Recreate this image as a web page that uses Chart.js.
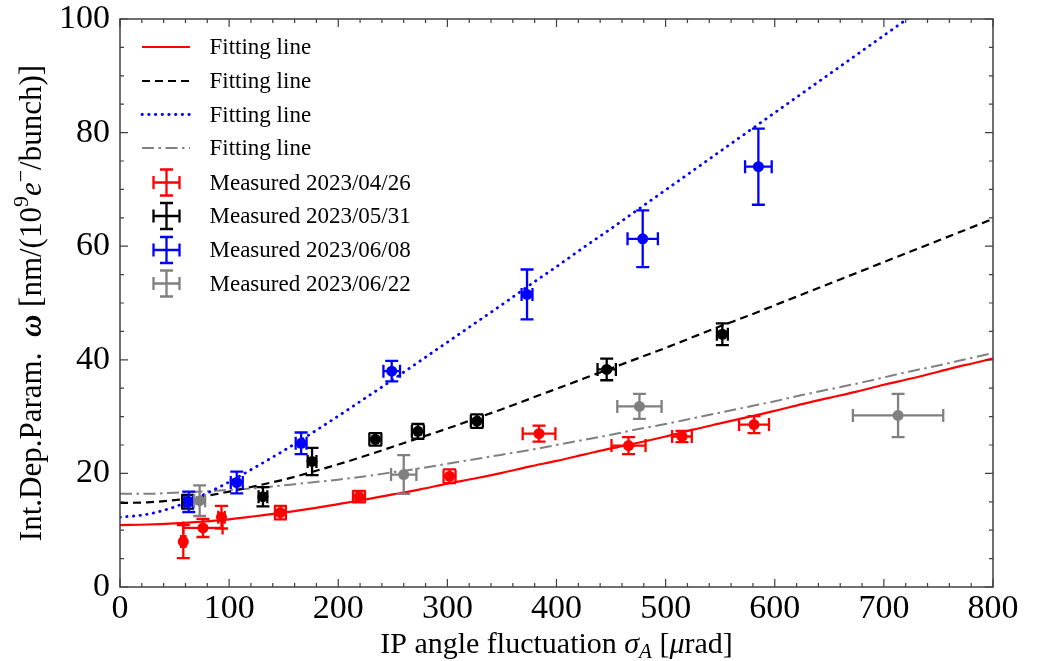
<!DOCTYPE html>
<html>
<head>
<meta charset="utf-8">
<script src="https://cdn.jsdelivr.net/npm/chart.js@4.4.0/dist/chart.umd.min.js"></script>
<style>
  body { margin: 0; background: #fff; }
  #wrap { width: 1039px; height: 661px; }
</style>
</head>
<body>
<div id="wrap"><canvas id="chart" width="1039" height="661"></canvas></div>
<script>
// fitting curves, every 25 urad
const fitX = [0, 25, 50, 75, 100, 125, 150, 175, 200, 225, 250, 275, 300, 325, 350, 375, 400,
              425, 450, 475, 500, 525, 550, 575, 600, 625, 650, 675, 700, 725, 750, 775, 800];
const fitRed = [10.9, 11.0, 11.2, 11.5, 11.9, 12.5, 13.1, 13.8, 14.6, 15.4, 16.3, 17.2, 18.2, 19.1, 20.1, 21.2, 22.2,
                23.3, 24.4, 25.4, 26.5, 27.7, 28.8, 29.9, 31.0, 32.2, 33.3, 34.4, 35.6, 36.7, 37.9, 39.1, 40.2];
const fitBlack = [14.8, 14.9, 15.3, 15.9, 16.8, 17.8, 18.9, 20.2, 21.6, 23.1, 24.7, 26.3, 27.9, 29.6, 31.3, 33.1, 34.9,
                  36.7, 38.5, 40.3, 42.1, 44.0, 45.9, 47.7, 49.6, 51.5, 53.4, 55.3, 57.2, 59.1, 61.0, 62.9, 64.8];
const fitBlue = [12.3, 12.8, 14.1, 16.1, 18.5, 21.2, 24.0, 27.0, 30.1, 33.3, 36.5, 39.8, 43.1, 46.4, 49.7, 53.1, 56.4,
                 59.8, 63.1, 66.5, 69.9, 73.3, 76.7, 80.1, 83.5, 86.9, 90.3, 93.7, 97.1, 100.5, 103.9, 107.3, 110.7];
const fitGray = [16.4, 16.4, 16.6, 16.8, 17.1, 17.4, 17.9, 18.4, 18.9, 19.5, 20.2, 20.9, 21.7, 22.5, 23.3, 24.1, 25.0,
                 25.9, 26.8, 27.8, 28.7, 29.7, 30.7, 31.7, 32.7, 33.8, 34.8, 35.8, 36.9, 38.0, 39.0, 40.1, 41.2];

// measured 2023/04/26
const redX = [58, 76, 93, 147, 219, 302, 384, 466, 515, 581];
const redY = [8.0, 10.4, 12.3, 13.1, 15.9, 19.5, 27.0, 24.9, 26.5, 28.6];
const redXErr = [2, 18, 3, 5, 5.5, 5.5, 15, 15.6, 9, 13.7];
const redYErr = [2.9, 1.6, 2.0, 1.2, 1.0, 1.2, 1.4, 1.5, 1.0, 1.5];
// measured 2023/05/31
const blackX = [62, 131, 176, 234, 273, 327, 446, 552];
const blackY = [15.0, 15.9, 22.1, 26.0, 27.4, 29.2, 38.3, 44.5];
const blackXErr = [5, 4, 4, 5.5, 5.5, 5.5, 8.4, 5];
const blackYErr = [1.2, 1.7, 2.4, 1.1, 1.3, 1.2, 1.9, 1.9];
// measured 2023/06/08
const blueX = [63, 107, 166, 249, 373, 479, 585];
const blueY = [15.0, 18.4, 25.3, 38.0, 51.5, 61.3, 74.0];
const blueXErr = [4, 5.5, 5, 7.6, 5, 13.9, 12.2];
const blueYErr = [1.8, 1.9, 1.9, 1.8, 4.4, 5.0, 6.7];
// measured 2023/06/22
const grayX = [73, 260, 476, 713];
const grayY = [15.2, 19.8, 31.8, 30.2];
const grayXErr = [5, 11.6, 20.3, 41.4];
const grayYErr = [2.7, 3.4, 2.2, 3.8];

const xTicks = [0, 100, 200, 300, 400, 500, 600, 700, 800];
const yTicks = [0, 20, 40, 60, 80, 100];

const SERIF = '"Liberation Serif", "DejaVu Serif", serif';
const RED = '#ff0000', BLACK = '#000000', BLUE = '#0000ff', GRAY = '#808080';

function pts(xs, ys) {
    return xs.map((x, i) => ({ x: x, y: ys[i] }));
}

function fitSet(label, ys, color, dash, width, cap) {
    return {
        type: 'line', label: label, data: pts(fitX, ys),
        borderColor: color, borderWidth: width, borderDash: dash,
        borderCapStyle: cap || 'butt',
        pointRadius: 0, showLine: true, cubicInterpolationMode: 'monotone',
        fill: false, order: 10
    };
}

function measSet(label, xs, ys, xe, ye, color, order) {
    return {
        label: label, data: pts(xs, ys), xErr: xe, yErr: ye,
        backgroundColor: color, borderColor: color, borderWidth: 0,
        pointRadius: 5.5, pointHoverRadius: 5.5, order: order
    };
}

const datasets = [
    fitSet('Fitting line', fitRed, RED, [], 2.2),
    fitSet('Fitting line', fitBlack, BLACK, [8, 5], 2.2),
    fitSet('Fitting line', fitBlue, BLUE, [0.4, 6.3], 2.8, 'round'),
    fitSet('Fitting line', fitGray, GRAY, [12, 4.5, 2.5, 4.5], 2),
    measSet('Measured 2023/04/26', redX, redY, redXErr, redYErr, RED, 4),
    measSet('Measured 2023/05/31', blackX, blackY, blackXErr, blackYErr, BLACK, 3),
    measSet('Measured 2023/06/08', blueX, blueY, blueXErr, blueYErr, BLUE, 2),
    measSet('Measured 2023/06/22', grayX, grayY, grayXErr, grayYErr, GRAY, 1)
];

const CAP = 6.5;

// error bars, drawn just before each measured set's markers
const errorBars = {
    id: 'errorBars',
    beforeDatasetDraw(chart, args) {
        const ds = chart.data.datasets[args.index];
        if (!ds.xErr) return;
        const xs = chart.scales.x, ys = chart.scales.y, ctx = chart.ctx;
        ctx.save();
        ctx.strokeStyle = ds.borderColor;
        ctx.lineWidth = 2.3;
        ds.data.forEach((p, i) => {
            const px = xs.getPixelForValue(p.x), py = ys.getPixelForValue(p.y);
            const x0 = xs.getPixelForValue(p.x - ds.xErr[i]);
            const x1 = xs.getPixelForValue(p.x + ds.xErr[i]);
            const y0 = ys.getPixelForValue(p.y - ds.yErr[i]);
            const y1 = ys.getPixelForValue(p.y + ds.yErr[i]);
            ctx.beginPath();
            ctx.moveTo(x0, py); ctx.lineTo(x1, py);
            ctx.moveTo(px, y0); ctx.lineTo(px, y1);
            ctx.moveTo(x0, py - CAP); ctx.lineTo(x0, py + CAP);
            ctx.moveTo(x1, py - CAP); ctx.lineTo(x1, py + CAP);
            ctx.moveTo(px - CAP, y0); ctx.lineTo(px + CAP, y0);
            ctx.moveTo(px - CAP, y1); ctx.lineTo(px + CAP, y1);
            ctx.stroke();
        });
        ctx.restore();
    }
};

// frame with inward ticks on all four sides
const frame = {
    id: 'frame',
    afterDatasetsDraw(chart) {
        const a = chart.chartArea, ctx = chart.ctx;
        const xs = chart.scales.x, ys = chart.scales.y;
        ctx.save();
        ctx.strokeStyle = '#404040';
        ctx.lineWidth = 1.5;
        ctx.strokeRect(a.left, a.top, a.right - a.left, a.bottom - a.top);
        ctx.lineWidth = 1.2;
        ctx.beginPath();
        for (let v = 0; v <= 800; v += 20) {
            const px = xs.getPixelForValue(v);
            const len = v % 100 === 0 ? 8 : 4;
            ctx.moveTo(px, a.bottom); ctx.lineTo(px, a.bottom - len);
            ctx.moveTo(px, a.top); ctx.lineTo(px, a.top + len);
        }
        for (let v = 0; v <= 100; v += 5) {
            const py = ys.getPixelForValue(v);
            const len = v % 20 === 0 ? 8 : 4;
            ctx.moveTo(a.left, py); ctx.lineTo(a.left + len, py);
            ctx.moveTo(a.right, py); ctx.lineTo(a.right - len, py);
        }
        ctx.stroke();
        ctx.restore();
    }
};

// text made of pieces with their own font and vertical shift
function richText(ctx, parts, cx, cy, angle) {
    ctx.save();
    ctx.translate(cx, cy);
    ctx.rotate(angle);
    ctx.fillStyle = '#000';
    ctx.textBaseline = 'alphabetic';
    let total = 0;
    parts.forEach(p => { ctx.font = p.font; total += ctx.measureText(p.t).width; });
    let x = -total / 2;
    parts.forEach(p => {
        ctx.font = p.font;
        ctx.fillText(p.t, x, p.dy || 0);
        x += ctx.measureText(p.t).width;
    });
    ctx.restore();
}

const titles = {
    id: 'titles',
    afterDraw(chart) {
        const a = chart.chartArea, ctx = chart.ctx;
        const n = '30px ' + SERIF, it = 'italic 30px ' + SERIF;
        const sm = '21px ' + SERIF, smi = 'italic 21px ' + SERIF;
        richText(ctx, [
            { t: 'IP angle fluctuation ', font: n },
            { t: 'σ', font: it },
            { t: 'A', font: smi, dy: 5 },
            { t: ' [', font: n },
            { t: 'μ', font: it },
            { t: 'rad]', font: n }
        ], (a.left + a.right) / 2, 653, 0);
        const ny = '31px ' + SERIF, iy = 'italic 31px ' + SERIF, sy = '22px ' + SERIF;
        richText(ctx, [
            { t: 'Int.Dep.Param.  ', font: ny },
            { t: 'ω', font: 'italic bold 31px ' + SERIF },
            { t: ' [nm/(10', font: ny },
            { t: '9', font: sy, dy: -13 },
            { t: 'e', font: iy },
            { t: '−', font: sy, dy: -13 },
            { t: '/bunch)]', font: ny }
        ], 41, (a.top + a.bottom) / 2, -Math.PI / 2);
    }
};

// legend: four line samples, then four error-bar crosses
const legendBox = {
    id: 'legendBox',
    afterDraw(chart) {
        const ctx = chart.ctx;
        const rowY = [47, 81, 114.5, 148, 182.5, 216, 250, 283.5];
        ctx.save();
        chart.data.datasets.forEach((ds, i) => {
            const y = rowY[i];
            ctx.strokeStyle = ds.borderColor;
            if (!ds.xErr) {
                ctx.lineWidth = ds.borderWidth;
                ctx.lineCap = ds.borderCapStyle;
                ctx.setLineDash(ds.borderDash);
                ctx.beginPath();
                ctx.moveTo(142, y); ctx.lineTo(190, y);
                ctx.stroke();
                ctx.setLineDash([]);
                ctx.lineCap = 'butt';
            } else {
                const cx = 166.5, r = 13;
                ctx.lineWidth = 2.3;
                ctx.beginPath();
                ctx.moveTo(cx - r, y); ctx.lineTo(cx + r, y);
                ctx.moveTo(cx, y - r); ctx.lineTo(cx, y + r);
                ctx.moveTo(cx - r, y - CAP); ctx.lineTo(cx - r, y + CAP);
                ctx.moveTo(cx + r, y - CAP); ctx.lineTo(cx + r, y + CAP);
                ctx.moveTo(cx - CAP, y - r); ctx.lineTo(cx + CAP, y - r);
                ctx.moveTo(cx - CAP, y + r); ctx.lineTo(cx + CAP, y + r);
                ctx.stroke();
            }
            ctx.fillStyle = '#000';
            ctx.font = '23px ' + SERIF;
            ctx.textBaseline = 'middle';
            ctx.fillText(ds.label, 209.5, y + 1);
        });
        ctx.restore();
    }
};

new Chart(document.getElementById('chart'), {
    type: 'scatter',
    data: { datasets: datasets },
    options: {
        responsive: false,
        animation: false,
        layout: { padding: { top: 19, right: 46, left: 0, bottom: 0 } },
        plugins: { legend: { display: false }, tooltip: { enabled: false } },
        scales: {
            x: {
                type: 'linear', min: 0, max: 800,
                afterFit(scale) {
                    scale.height = 74;
                    scale.paddingLeft = 0;
                    scale.paddingRight = 0;
                },
                afterBuildTicks(scale) { scale.ticks = xTicks.map(v => ({ value: v })); },
                grid: { display: false, drawTicks: false },
                border: { display: false },
                ticks: {
                    autoSkip: false, maxRotation: 0, padding: 2, color: '#000',
                    font: { family: SERIF, size: 34 }
                }
            },
            y: {
                type: 'linear', min: 0, max: 100,
                afterFit(scale) {
                    scale.width = 120;
                    scale.paddingTop = 0;
                    scale.paddingBottom = 0;
                },
                afterBuildTicks(scale) { scale.ticks = yTicks.map(v => ({ value: v })); },
                grid: { display: false, drawTicks: false },
                border: { display: false },
                ticks: {
                    autoSkip: false, padding: 10, color: '#000',
                    font: { family: SERIF, size: 34 }
                }
            }
        }
    },
    plugins: [errorBars, frame, titles, legendBox]
});
</script>
</body>
</html>
